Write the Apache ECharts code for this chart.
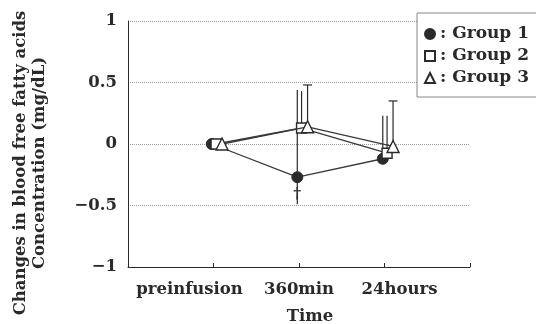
<!DOCTYPE html>
<html>
<head>
<meta charset="utf-8">
<script src="https://cdn.jsdelivr.net/npm/echarts@6/dist/echarts.min.js"></script>
<style>html,body{margin:0;padding:0;background:#fff}#c{width:536px;height:324px}</style>
</head>
<body>
<div id="c"></div>
<script>
// ---- data ----
const categories = ['preinfusion', '360min', '24hours'];
const group1 = [0, -0.27, -0.12];
const group2 = [0, 0.13, -0.075];
const group3 = [0, 0.14, -0.02];
const group1Upper = [null, 0.44, 0.23];
const group1Lower = [null, -0.49, null];
const group2Upper = [null, 0.43, 0.23];
const group2Lower = [null, null, null];
const group3Upper = [null, 0.48, 0.35];
const group3Lower = [null, null, null];
const group1Marks = ['', '\u2020', ''];
const yTicks = [-1, -0.5, 0, 0.5, 1];

// ---- layout / style constants ----
const FONT = 'DejaVu Serif';
const FS = 16.5;
const INK = '#2a2a2a';
const DODGE = { g1: -0.02, g2: 0.03, g3: 0.1 };

function pts(vals, d) { return vals.map((v, i) => [i + 1 + d, v]); }
function bars(vals, up, lo, d, cap) {
  const out = [];
  vals.forEach((v, i) => {
    if (up[i] != null || lo[i] != null) {
      out.push([i + 1 + d, v, up[i] != null ? up[i] : v, lo[i] != null ? lo[i] : v, cap]);
    }
  });
  return out;
}
function errSeries(data) {
  return {
    type: 'custom', z: 1, silent: true,
    data: data,
    encode: { x: 0, y: [1, 2, 3] },
    renderItem: function (params, api) {
      const x = api.value(0), hi = api.value(2), lo = api.value(3), cap = api.value(4);
      const pHi = api.coord([x, hi]);
      const pLo = api.coord([x, lo]);
      const children = [{
        type: 'line', shape: { x1: pHi[0], y1: pHi[1], x2: pLo[0], y2: pLo[1] },
        style: { stroke: INK, lineWidth: 1.2 }
      }];
      if (cap > 0) {
        children.push({
          type: 'line', shape: { x1: pHi[0] - cap, y1: pHi[1], x2: pHi[0] + cap, y2: pHi[1] },
          style: { stroke: INK, lineWidth: 1.2 }
        });
      }
      return { type: 'group', children: children };
    }
  };
}

const labelShift = { 'preinfusion': [0, 48, 0, 0], '360min': [0, 0, 0, 0], '24hours': [0, 0, 0, 30] };
const lab = { fontFamily: FONT, fontSize: FS, fontWeight: 'bold', color: INK };

const chart = echarts.init(document.getElementById('c'), null, { renderer: 'canvas' });
const option = {
  animation: false,
  backgroundColor: '#fff',
  textStyle: { fontFamily: FONT },
  grid: { left: 128, right: 66, top: 21, bottom: 57, containLabel: false, outerBoundsMode: 'none' },
  legend: {
    orient: 'vertical', left: 417, top: 13,
    padding: [12, 60, 10, 7], itemGap: 4, itemWidth: 10, itemHeight: 10,
    borderColor: '#888', borderWidth: 1, backgroundColor: '#fff',
    formatter: ': {name}',
    textStyle: { fontFamily: FONT, fontSize: 17, fontWeight: 'bold', color: INK, lineHeight: 18 },
    data: [
      { name: 'Group 1', icon: 'circle' },
      { name: 'Group 2', icon: 'rect' },
      { name: 'Group 3', icon: 'triangle' }
    ]
  },
  xAxis: {
    type: 'value', min: 0, max: 4, interval: 1,
    axisLine: { onZero: false, lineStyle: { color: INK, width: 1 } },
    axisTick: { inside: true, length: 4, lineStyle: { color: INK } },
    splitLine: { show: false },
    axisLabel: {
      margin: 14,
      formatter: function (v) {
        const c = categories[v - 1];
        return c ? '{' + (v === 1 ? 'a' : v === 2 ? 'b' : 'c') + '|' + c + '}' : '';
      },
      rich: {
        a: Object.assign({ padding: labelShift['preinfusion'] }, lab),
        b: Object.assign({ padding: labelShift['360min'] }, lab),
        c: Object.assign({ padding: labelShift['24hours'] }, lab)
      }
    },
    name: 'Time', nameLocation: 'middle', nameGap: 41,
    nameTextStyle: Object.assign({ padding: [0, 0, 0, 22] }, lab)
  },
  yAxis: {
    type: 'value', min: yTicks[0], max: yTicks[yTicks.length - 1], interval: 0.5,
    axisLine: { show: true, onZero: false, lineStyle: { color: INK, width: 1 } },
    axisTick: { show: false },
    splitLine: { show: true, lineStyle: { color: '#9a9a9a', type: 'dotted', width: 1 } },
    axisLabel: Object.assign({
      margin: 11,
      formatter: function (v) { return String(v).replace('-', '\u2212'); }
    }, lab)
  },
  graphic: [{
    type: 'text', x: 30, y: 163, rotation: Math.PI / 2,
    style: {
      text: 'Changes in blood free fatty acids\nConcentration (mg/dL)',
      fontFamily: FONT, fontSize: FS, fontWeight: 'bold', fill: INK,
      textAlign: 'center', textVerticalAlign: 'middle', lineHeight: 19
    }
  }],
  series: [
    errSeries(bars(group1, group1Upper, group1Lower, DODGE.g1, 0)),
    errSeries(bars(group2, group2Upper, group2Lower, DODGE.g2, 0)),
    errSeries(bars(group3, group3Upper, group3Lower, DODGE.g3, 4.5)),
    {
      name: 'Group 1', type: 'line', z: 3, data: pts(group1, DODGE.g1),
      symbol: 'circle', symbolSize: 11,
      lineStyle: { color: '#3a3a3a', width: 1.3 },
      itemStyle: { color: '#2a2a2a', borderColor: '#2a2a2a', borderWidth: 1 },
      label: {
        show: true, position: 'bottom', distance: 3,
        formatter: function (p) { return group1Marks[p.dataIndex]; },
        fontFamily: FONT, fontSize: 15, fontWeight: 'bold', color: INK
      }
    },
    {
      name: 'Group 2', type: 'line', z: 4, data: pts(group2, DODGE.g2),
      symbol: 'rect', symbolSize: 10,
      lineStyle: { color: '#3a3a3a', width: 1.3 },
      itemStyle: { color: '#fff', borderColor: '#2a2a2a', borderWidth: 1.4 }
    },
    {
      name: 'Group 3', type: 'line', z: 5, data: pts(group3, DODGE.g3),
      symbol: 'triangle', symbolSize: 12,
      lineStyle: { color: '#3a3a3a', width: 1.3 },
      itemStyle: { color: '#fff', borderColor: '#2a2a2a', borderWidth: 1.4 }
    }
  ]
};
chart.setOption(option);
</script>
</body>
</html>
